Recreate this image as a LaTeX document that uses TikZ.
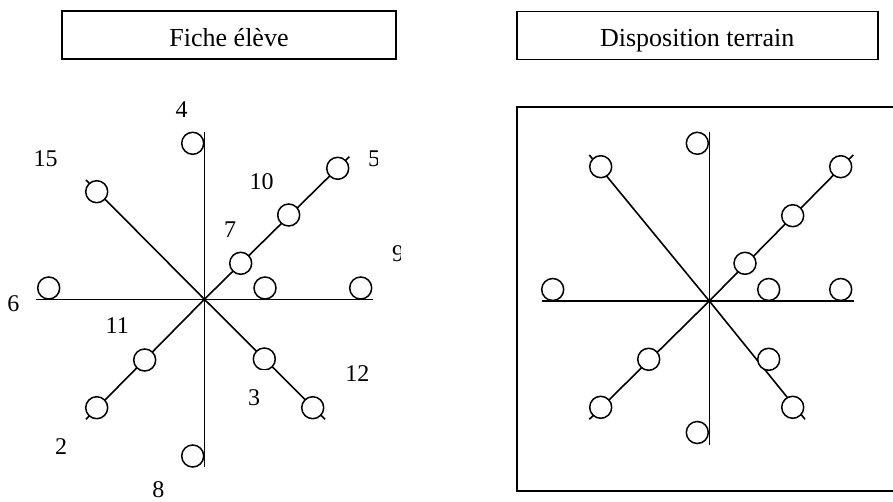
\documentclass[tikz,border=0pt]{standalone}
\usepackage{fontspec}
\setmainfont{Liberation Serif}
\begin{document}
\begin{tikzpicture}[x=1pt,y=-1pt]
\tikzset{
  axisline/.style={line width=1.6pt},
  pt/.style={circle, draw, fill=white, line width=1.5pt, minimum size=22pt, inner sep=0pt},
  lbl/.style={font=\fontsize{24}{28}\selectfont, inner sep=0pt},
  titlebox/.style={draw, line width=1.8pt, font=\fontsize{26}{30}\selectfont, text height=23pt, text depth=0pt, inner sep=0pt},
  frameline/.style={line width=1.8pt}
}
\useasboundingbox (0,0) rectangle (893,502);

% title boxes
\node[titlebox, minimum width=334pt, minimum height=48pt] (tL) at (229,35.2) {Fiche élève};
\node[titlebox, minimum width=361pt, minimum height=48pt] (tR) at (697.2,35.5) {Disposition terrain};

% ---------------- left diagram ----------------
\coordinate (Lc) at (204.4,299.3);
\coordinate (Lt) at (204.4,131.7);
\coordinate (Lb) at (204.4,467);
\coordinate (Ll) at (36,299.3);
\coordinate (Lr) at (373,299.3);
\coordinate (Lne) at (349.3,156.7);
\coordinate (Lsw) at (86,419.3);
\coordinate (Lnw) at (86,180);
\coordinate (Lse) at (325,419.3);
\draw[axisline] (Lt) -- (Lb);
\draw[axisline] (Ll) -- (Lr);
\draw[axisline] (Lne) -- (Lc) -- (Lsw);
\draw[axisline] (Lnw) -- (Lc) -- (Lse);

\node[pt] (c4) at (192.7,143.3) {};
\node[pt] (c15) at (96.7,191.7) {};
\node[pt] (c5) at (337.7,168.3) {};
\node[pt] (c10) at (288.7,215) {};
\node[pt] (c7) at (240.7,263.3) {};
\node[pt] (ch) at (265,288) {};
\node[pt] (c9) at (360.7,288) {};
\node[pt] (c6) at (48.7,288) {};
\node[pt] (c11) at (144.7,360) {};
\node[pt] (c2) at (96.7,407.7) {};
\node[pt] (cse1) at (264.3,359) {};
\node[pt] (cse2) at (312.7,407.7) {};
\node[pt] (c8) at (192.7,456) {};

\node[lbl] (n4) at (181.7,110) {4};
\node[lbl] (n15) at (45.7,158.3) {15};
\begin{scope}
  \clip (360,140) rectangle (377,180);
  \node[lbl] (n5) at (374,158.3) {5};
\end{scope}
\node[lbl] (n10) at (261.7,181.7) {10};
\node[lbl] (n7) at (230,230) {7};
\begin{scope}
  \clip (385,235) rectangle (400,275);
  \node[lbl] (n9) at (398,253.3) {9};
\end{scope}
\begin{scope}
  \clip (8,285) rectangle (30,325);
  \node[lbl] (n6) at (13.3,303.3) {6};
\end{scope}
\node[lbl] (n11) at (117.3,325.7) {11};
\node[lbl] (n12) at (357.3,373.3) {12};
\node[lbl, fill=white, minimum width=42pt, minimum height=55.4pt] (n3) at (254,397.7) {3};
\node[lbl] (n2) at (61,446.7) {2};
\node[lbl] (n8) at (158.3,490) {8};

% ---------------- right diagram ----------------
\coordinate (Ftr) at (893,107.3);
\coordinate (Ftl) at (516.7,107.3);
\coordinate (Fbl) at (516.7,491);
\coordinate (Fbr) at (893,491);
\draw[frameline] (Ftr) -- (Ftl) -- (Fbl) -- (Fbr);

\coordinate (Rc) at (709.3,301);
\coordinate (Rt) at (709.3,131.7);
\coordinate (Rb) at (709.3,445);
\coordinate (Rl) at (541.7,301);
\coordinate (Rr) at (854.3,301);
\coordinate (Rne) at (853.3,155);
\coordinate (Rsw) at (589.3,419.3);
\coordinate (Rnw) at (589.3,155);
\coordinate (Rse) at (805,419.3);
\draw[axisline] (Rt) -- (Rb);
\draw[axisline] (Rl) -- (Rr);
\draw[axisline] (Rne) -- (Rc) -- (Rsw);
\draw[axisline] (Rnw) -- (Rc) -- (Rse);

\node[pt] (r-top) at (697.3,143.3) {};
\node[pt] (r-nw) at (600.7,166.7) {};
\node[pt] (r-ne) at (840.7,166.7) {};
\node[pt] (r-ne2) at (792.7,215.7) {};
\node[pt] (r-ne3) at (745,263.3) {};
\node[pt] (r-hl) at (552.7,289.5) {};
\node[pt] (r-hn) at (768.7,289.5) {};
\node[pt] (r-hf) at (840.7,289.5) {};
\node[pt] (r-sw1) at (648.7,359.3) {};
\node[pt] (r-sw2) at (600.7,407.3) {};
\node[pt] (r-se1) at (768.7,359.3) {};
\node[pt] (r-se2) at (792.7,407.3) {};
\node[pt] (r-bot) at (697.3,432.5) {};
\end{tikzpicture}
\end{document}
